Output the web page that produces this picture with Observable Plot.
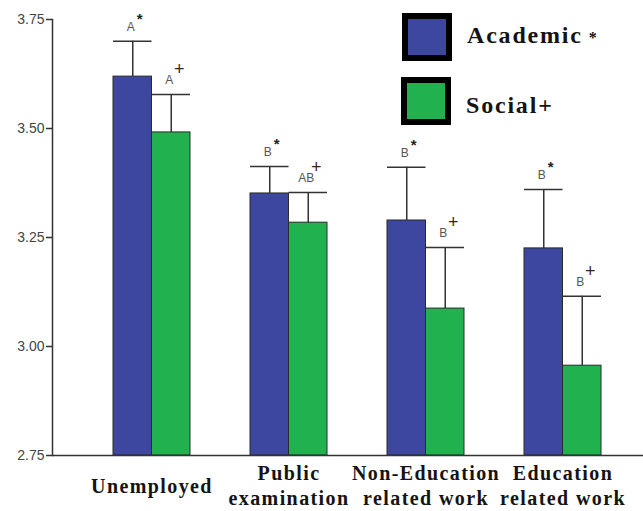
<!DOCTYPE html>
<html>
<head>
<meta charset="utf-8">
<script src="https://cdn.jsdelivr.net/npm/d3@7"></script>
<script src="https://cdn.jsdelivr.net/npm/@observablehq/plot@0.6"></script>
<style>
  html, body { margin: 0; padding: 0; background: #fff; overflow: hidden; }
  #wrap { position: relative; width: 643px; height: 511px; }
  #wrap svg { display: block; }
  g[aria-label="x-axis tick label"] text { letter-spacing: 1.4px; }
  .legend { position: absolute; left: 0; top: 0; font-family: "Liberation Serif", "Times New Roman", serif; font-weight: bold; color: #141414; }
  .legend .sw { position: absolute; width: 38px; height: 36px; border: 6px solid #000; }
  .legend .lab { position: absolute; font-size: 24px; letter-spacing: 1.8px; white-space: nowrap; line-height: 1; }
  .legend .mark { font-size: 16px; font-weight: bold; position: relative; top: 0px; margin-left: 6px; }
</style>
</head>
<body>
<div id="wrap"></div>
<script>
// ---- data ----
const categories = ["Unemployed", "Public examination", "Non-Education related work", "Education related work"];
const tickLabels = ["Unemployed", "Public\nexamination", "Non-Education\nrelated work", "Education\nrelated work"];
const academic = [3.619, 3.351, 3.289, 3.225];
const academicErr = [3.700, 3.413, 3.411, 3.360];
const social = [3.491, 3.284, 3.087, 2.956];
const socialErr = [3.578, 3.353, 3.227, 3.115];
const academicLetters = ["A", "B", "B", "B"];
const socialLetters = ["A", "AB", "B", "B"];
const seriesNames = ["Academic", "Social"];
const seriesMarks = ["*", "+"];
const yTicks = [2.75, 3.00, 3.25, 3.50, 3.75];

const blue = "#3e47a0";
const green = "#22b14f";
const yMin = yTicks[0], yMax = yTicks[yTicks.length - 1];

const rows = categories.map((c, i) => ({
  cat: c,
  academic: academic[i], academicErr: academicErr[i], academicLetter: academicLetters[i],
  social: social[i], socialErr: socialErr[i], socialLetter: socialLetters[i]
}));
const labelOf = new Map(categories.map((c, i) => [c, tickLabels[i]]));

const half = 38.5;      // half of the band: one bar per series
const off = half / 2;   // offset of each bar's centre from the band centre

const chart = Plot.plot({
  width: 643,
  height: 511,
  marginTop: 19,
  marginBottom: 56,
  marginLeft: 52,
  marginRight: 0,
  style: { background: "#fff", overflow: "visible" },
  x: { domain: categories, range: [52, 661.5], paddingInner: 0.4384, paddingOuter: 0.442, align: 0.5 },
  y: { domain: [yMin, yMax] },
  marks: [
    // bars
    Plot.barY(rows, { x: "cat", y1: yMin, y2: "academic", fill: blue, stroke: "#2a2a2a", strokeWidth: 1, insetRight: half }),
    Plot.barY(rows, { x: "cat", y1: yMin, y2: "social", fill: green, stroke: "#2a2a2a", strokeWidth: 1, insetLeft: half }),
    // error bars
    Plot.ruleX(rows, { x: "cat", y1: "academic", y2: "academicErr", dx: -off, stroke: "#333", strokeWidth: 1.5 }),
    Plot.tickY(rows, { x: "cat", y: "academicErr", insetRight: half, stroke: "#333", strokeWidth: 1.5 }),
    Plot.ruleX(rows, { x: "cat", y1: "social", y2: "socialErr", dx: off, stroke: "#333", strokeWidth: 1.5 }),
    Plot.tickY(rows, { x: "cat", y: "socialErr", insetLeft: half, stroke: "#333", strokeWidth: 1.5 }),
    // significance letters
    Plot.text(rows, { x: "cat", y: "academicErr", text: "academicLetter", dx: -off - 2, dy: -14, fontSize: 12, fill: "#555", fontFamily: "Liberation Sans, Arial, sans-serif" }),
    Plot.text(rows, { x: "cat", y: "academicErr", text: () => seriesMarks[0], dx: -off + 7, dy: -22, fontSize: 15, fontWeight: "bold", fill: "#222", fontFamily: "Liberation Sans, Arial, sans-serif" }),
    Plot.text(rows, { x: "cat", y: "socialErr", text: "socialLetter", dx: off - 2, dy: -14, fontSize: 12, fill: "#555", fontFamily: "Liberation Sans, Arial, sans-serif" }),
    Plot.text(rows, { x: "cat", y: "socialErr", text: () => seriesMarks[1], dx: off + 8, dy: -25, fontSize: 18, fill: "#3a1f26", fontFamily: "Liberation Sans, Arial, sans-serif" }),
    // axes
    Plot.ruleY([yMin], { stroke: "#333", strokeWidth: 1.5 }),
    Plot.frame({ anchor: "left", stroke: "#333", strokeWidth: 1.5 }),
    Plot.axisY({ ticks: yTicks, tickFormat: d3.format(".2f"), tickSize: 6, tickPadding: 2, fontSize: 14, fill: "#444", stroke: "#333", strokeWidth: 1.5, label: null, fontFamily: "Liberation Sans, Arial, sans-serif" }),
    Plot.axisX({ tickSize: 0, tickPadding: 29, lineAnchor: "middle", lineHeight: 1.27, fontSize: 20, fontWeight: "bold", fill: "#141414", label: null, fontFamily: "Liberation Serif, Times New Roman, serif", tickFormat: d => labelOf.get(d) })
  ]
});

const wrap = document.getElementById("wrap");
wrap.appendChild(chart);

// legend (overlaid in the upper right of the plot area)
const legend = document.createElement("div");
legend.className = "legend";
const items = [
  { name: seriesNames[0], mark: seriesMarks[0], color: blue, top: 13, left: 402, ty: 23, tx: 467, sep: true },
  { name: seriesNames[1], mark: seriesMarks[1], color: green, top: 77, left: 401, ty: 93, tx: 466, sep: false }
];
for (const it of items) {
  const sw = document.createElement("div");
  sw.className = "sw";
  sw.style.left = it.left + "px";
  sw.style.top = it.top + "px";
  sw.style.background = it.color;
  legend.appendChild(sw);
  const lab = document.createElement("div");
  lab.className = "lab";
  lab.style.left = it.tx + "px";
  lab.style.top = it.ty + "px";
  lab.appendChild(document.createTextNode(it.name));
  if (it.sep) {
    const m = document.createElement("span");
    m.className = "mark";
    m.textContent = it.mark;
    lab.appendChild(m);
  } else {
    lab.appendChild(document.createTextNode(it.mark));
  }
  legend.appendChild(lab);
}
wrap.appendChild(legend);
</script>
</body>
</html>
